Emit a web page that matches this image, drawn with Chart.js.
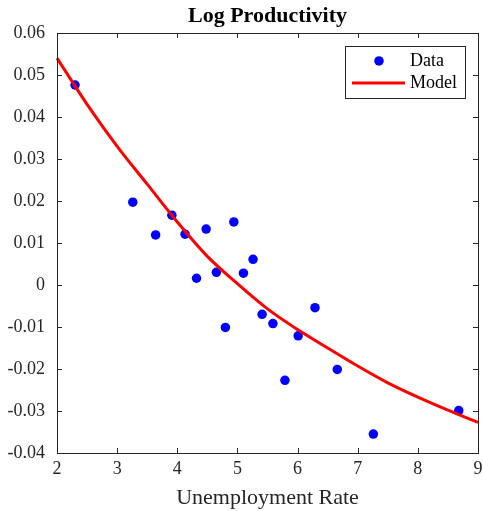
<!DOCTYPE html>
<html>
<head>
<meta charset="utf-8">
<script src="https://cdn.jsdelivr.net/npm/chart.js@4.4.1/dist/chart.umd.min.js"></script>
<style>
  html, body { margin: 0; padding: 0; background: #fff; }
  #wrap { width: 483px; height: 511px; }
</style>
</head>
<body>
<div id="wrap"><canvas id="chart" width="483" height="511"></canvas></div>
<script>
// Observed data (unemployment rate vs log productivity)
const unemployment = [2.30, 3.26, 3.64, 3.91, 4.13, 4.48, 4.94, 4.32, 4.65, 5.10,
                      5.26, 4.80, 5.41, 5.59, 6.01, 6.29, 5.79, 6.66, 7.26, 8.68];
const logProductivity = [0.0476, 0.0197, 0.0119, 0.0166, 0.0121, 0.0133, 0.0150, 0.0016, 0.0030, 0.0028,
                         0.0061, -0.0101, -0.0070, -0.0092, -0.0121, -0.0054, -0.0227, -0.0201, -0.0355, -0.0299];

// Fitted model curve
const modelX = [2.0, 2.5, 3.0, 3.5, 4.0, 4.5, 5.0, 5.5, 6.0, 6.5, 7.0, 7.5, 8.0, 8.5, 9.0];
const modelY = [0.0540, 0.0430, 0.0330, 0.0240, 0.0150, 0.0068, 0.0003, -0.0057, -0.0106,
                -0.0150, -0.0193, -0.0233, -0.0267, -0.0298, -0.0327];

// Axis ticks
const xTicks = [2, 3, 4, 5, 6, 7, 8, 9];
const yTicks = [-0.04, -0.03, -0.02, -0.01, 0, 0.01, 0.02, 0.03, 0.04, 0.05, 0.06];

const axisColor = '#262626';
const serif = '"Liberation Serif", "Times New Roman", serif';

// MATLAB style box with inward ticks on all four sides
const boxPlugin = {
    id: 'matlabBox',
    afterDatasetsDraw(chart) {
        const { ctx, chartArea: a, scales } = chart;
        const len = 5;
        ctx.save();
        ctx.strokeStyle = axisColor;
        ctx.lineWidth = 1;
        ctx.beginPath();
        xTicks.forEach(v => {
            const px = Math.round(scales.x.getPixelForValue(v)) + 0.5;
            ctx.moveTo(px, a.bottom); ctx.lineTo(px, a.bottom - len);
            ctx.moveTo(px, a.top); ctx.lineTo(px, a.top + len);
        });
        yTicks.forEach(v => {
            const py = Math.round(scales.y.getPixelForValue(v)) + 0.5;
            ctx.moveTo(a.left, py); ctx.lineTo(a.left + len, py);
            ctx.moveTo(a.right, py); ctx.lineTo(a.right - len, py);
        });
        ctx.stroke();
        ctx.strokeRect(Math.round(a.left) + 0.5, Math.round(a.top) + 0.5,
                       Math.round(a.right - a.left), Math.round(a.bottom - a.top));
        ctx.restore();
    }
};

// Legend box in the upper right corner
const legendPlugin = {
    id: 'matlabLegend',
    afterDraw(chart) {
        const { ctx, chartArea: a } = chart;
        const w = 120, h = 52;
        const x0 = a.right - 13 - w, y0 = a.top + 13;
        const ds = chart.data.datasets;
        ctx.save();
        ctx.fillStyle = '#fff';
        ctx.fillRect(x0, y0, w, h);
        ctx.strokeStyle = axisColor;
        ctx.lineWidth = 1;
        ctx.strokeRect(Math.round(x0) + 0.5, Math.round(y0) + 0.5, w, h);

        // Data entry
        ctx.fillStyle = ds[0].backgroundColor;
        ctx.beginPath();
        ctx.arc(x0 + 34, y0 + 15, 4.75, 0, Math.PI * 2);
        ctx.fill();
        // Model entry
        ctx.strokeStyle = ds[1].borderColor;
        ctx.lineWidth = 3;
        ctx.beginPath();
        ctx.moveTo(x0 + 7, y0 + 37);
        ctx.lineTo(x0 + 60, y0 + 37);
        ctx.stroke();

        ctx.fillStyle = '#000';
        ctx.font = '18px ' + serif;
        ctx.textAlign = 'left';
        ctx.textBaseline = 'middle';
        ctx.fillText(ds[0].label, x0 + 65, y0 + 15);
        ctx.fillText(ds[1].label, x0 + 65, y0 + 37);
        ctx.restore();
    }
};

const ctx = document.getElementById('chart').getContext('2d');
new Chart(ctx, {
    type: 'scatter',
    data: {
        datasets: [
            {
                label: 'Data',
                data: unemployment.map((u, i) => ({ x: u, y: logProductivity[i] })),
                backgroundColor: '#0000ff',
                borderColor: '#0000ff',
                pointRadius: 4.75,
                pointBorderWidth: 0,
                order: 2
            },
            {
                label: 'Model',
                type: 'line',
                data: modelX.map((u, i) => ({ x: u, y: modelY[i] })),
                borderColor: '#ff0000',
                borderWidth: 3,
                pointRadius: 0,
                fill: false,
                cubicInterpolationMode: 'monotone',
                order: 1
            }
        ]
    },
    options: {
        responsive: false,
        animation: false,
        clip: false,
        layout: { padding: { left: 0, right: 5, top: 0, bottom: 0 } },
        plugins: {
            legend: { display: false },
            tooltip: { enabled: false },
            title: {
                display: true,
                text: 'Log Productivity',
                fullSize: false,
                color: '#000',
                font: { family: serif, size: 22, weight: 'bold' },
                padding: { top: 3.5, bottom: 3 }
            }
        },
        scales: {
            x: {
                type: 'linear',
                min: 2,
                max: 9,
                afterFit(scale) {
                    scale.height = 58;
                    scale.paddingLeft = 0;
                    scale.paddingRight = 0;
                },
                afterBuildTicks(scale) { scale.ticks = xTicks.map(v => ({ value: v })); },
                grid: { display: false, drawTicks: false },
                border: { display: false },
                ticks: {
                    color: axisColor,
                    padding: 5,
                    maxRotation: 0,
                    font: { family: serif, size: 18 },
                    callback: v => String(v)
                },
                title: {
                    display: true,
                    text: 'Unemployment Rate',
                    color: axisColor,
                    font: { family: serif, size: 22 },
                    padding: { top: 0, bottom: 0 }
                }
            },
            y: {
                type: 'linear',
                min: -0.04,
                max: 0.06,
                afterFit(scale) {
                    scale.width = 57;
                    scale.paddingTop = 0;
                    scale.paddingBottom = 0;
                },
                afterBuildTicks(scale) { scale.ticks = yTicks.map(v => ({ value: v })); },
                grid: { display: false, drawTicks: false },
                border: { display: false },
                ticks: {
                    color: axisColor,
                    padding: 12,
                    font: { family: serif, size: 18 },
                    callback: v => String(parseFloat(v.toFixed(2)))
                }
            }
        }
    },
    plugins: [boxPlugin, legendPlugin]
});
</script>
</body>
</html>
